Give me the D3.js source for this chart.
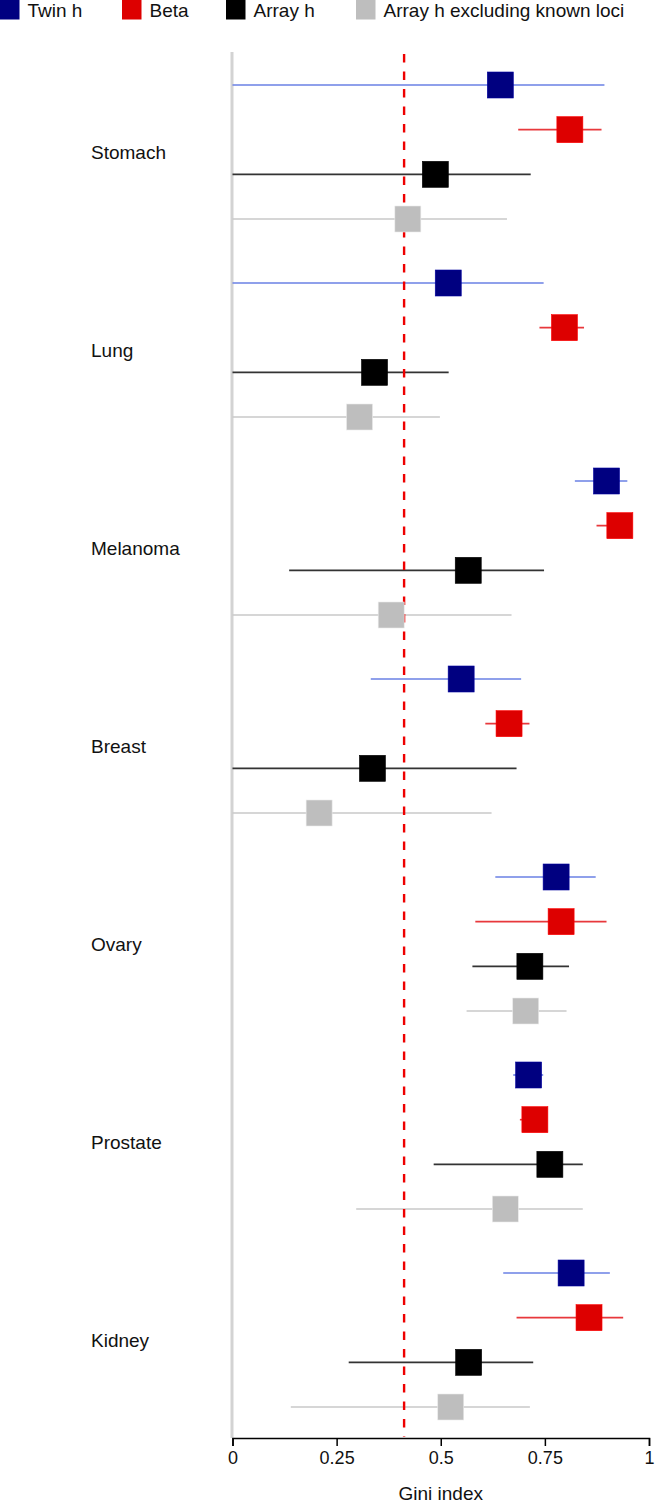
<!DOCTYPE html>
<html lang="en">
<head>
  <meta charset="UTF-8" />
  <title>Gini index by cancer</title>
  <script src="https://d3js.org/d3.v7.min.js"></script>
  <style>
    body { margin: 0; padding: 0; background: white; }
    svg { display: block; font-family: "Liberation Sans", Arial, sans-serif; }
  </style>
</head>
<body>
  <svg id="chart" width="655" height="1505"></svg>

  <script>
    // categories and series
    const cancers = ["Stomach", "Lung", "Melanoma", "Breast", "Ovary", "Prostate", "Kidney"];
    const seriesNames = ["Twin h", "Beta", "Array h", "Array h excluding known loci"];

    // point estimates and interval bounds, one value per cancer
    const twinEst = [0.643, 0.518, 0.898, 0.549, 0.777, 0.711, 0.813];
    const twinLo  = [0,     0,     0.822, 0.332, 0.631, 0.674, 0.650];
    const twinHi  = [0.893, 0.747, 0.948, 0.693, 0.872, 0.746, 0.906];

    const betaEst = [0.810, 0.797, 0.930, 0.664, 0.789, 0.726, 0.856];
    const betaLo  = [0.686, 0.737, 0.874, 0.607, 0.583, 0.690, 0.682];
    const betaHi  = [0.886, 0.844, 0.955, 0.713, 0.898, 0.750, 0.938];

    const arrayEst = [0.487, 0.341, 0.566, 0.336, 0.714, 0.762, 0.567];
    const arrayLo  = [0,     0,     0.136, 0,     0.576, 0.483, 0.279];
    const arrayHi  = [0.716, 0.519, 0.748, 0.682, 0.808, 0.841, 0.722];

    const exclEst = [0.421, 0.305, 0.381, 0.208, 0.704, 0.655, 0.524];
    const exclLo  = [0,     0,     0,     0,     0.562, 0.297, 0.140];
    const exclHi  = [0.659, 0.498, 0.670, 0.622, 0.802, 0.841, 0.714];

    const xTicks = [0, 0.25, 0.5, 0.75, 1];
    const refValue = 0.412;

    const boxColors  = ["#000080", "#dd0000", "#000000", "#bebebe"];
    const lineColors = ["#6a80e4", "#e8383c", "#333333", "#c9c9c9"];

    const est = [twinEst, betaEst, arrayEst, exclEst];
    const lo  = [twinLo, betaLo, arrayLo, exclLo];
    const hi  = [twinHi, betaHi, arrayHi, exclHi];

    // flat table for drawing
    const rows = [];
    cancers.forEach((c, i) => {
      seriesNames.forEach((s, j) => {
        rows.push({ cancer: c, series: s, k: j, est: est[j][i], lo: lo[j][i], hi: hi[j][i] });
      });
    });

    const svg = d3.select("#chart");
    const axisY = 1438;

    const x = d3.scaleLinear().domain([0, 1]).range([232.5, 649]);
    const y = d3.scaleBand().domain(cancers).range([53, 1439]).padding(0);
    const yIn = d3.scalePoint().domain(seriesNames).range([-67, 67]);
    const rowY = d => y(d.cancer) + y.bandwidth() / 2 + yIn(d.series);

    // left grey bar
    svg.append("line")
      .attr("x1", x(0) - 0.5).attr("x2", x(0) - 0.5)
      .attr("y1", 52).attr("y2", axisY)
      .attr("stroke", "#d3d3d3").attr("stroke-width", 3);

    // cancer labels
    svg.append("g").selectAll("text")
      .data(cancers)
      .enter().append("text")
      .attr("x", 91)
      .attr("y", d => y(d) + y.bandwidth() / 2)
      .attr("dy", "0.35em")
      .attr("font-size", 19)
      .attr("fill", "#111")
      .text(d => d);

    // interval lines
    svg.append("g").selectAll("line")
      .data(rows)
      .enter().append("line")
      .attr("x1", d => x(d.lo))
      .attr("x2", d => x(d.hi))
      .attr("y1", rowY).attr("y2", rowY)
      .attr("stroke", d => lineColors[d.k])
      .attr("stroke-width", 1.6);

    // reference dashed line
    svg.append("line")
      .attr("x1", x(refValue)).attr("x2", x(refValue))
      .attr("y1", 54).attr("y2", axisY - 1)
      .attr("stroke", "#ee0000")
      .attr("stroke-width", 2.4)
      .attr("stroke-dasharray", "8.5,9");

    // squares
    const sq = 26;
    svg.append("g").selectAll("rect")
      .data(rows)
      .enter().append("rect")
      .attr("x", d => x(d.est) - sq / 2)
      .attr("y", d => rowY(d) - sq / 2)
      .attr("width", sq).attr("height", sq)
      .attr("fill", d => boxColors[d.k])
      .attr("stroke", d => d3.color(boxColors[d.k]).brighter(0.6))
      .attr("stroke-width", 0.6);

    // x axis
    const xAxis = svg.append("g")
      .attr("transform", `translate(0,${axisY})`)
      .call(d3.axisBottom(x).tickValues(xTicks).tickFormat(d => d3.format("")(d)).tickSize(8).tickPadding(5));
    xAxis.select(".domain").attr("stroke", "#000").attr("stroke-width", 1.5);
    xAxis.selectAll(".tick line").attr("stroke", "#000").attr("stroke-width", 1.5);
    xAxis.selectAll(".tick text")
      .attr("font-size", 18)
      .attr("font-family", "Liberation Sans, Arial, sans-serif")
      .attr("fill", "#111");

    svg.append("text")
      .attr("x", x(0.5)).attr("y", 1500)
      .attr("text-anchor", "middle")
      .attr("font-size", 19)
      .attr("fill", "#111")
      .text("Gini index");

    // legend
    const legendX = [0, 122, 226, 356];
    const legend = svg.append("g").selectAll("g")
      .data(seriesNames)
      .enter().append("g")
      .attr("transform", (d, i) => `translate(${legendX[i]},0)`);
    legend.append("rect")
      .attr("width", 19.5).attr("height", 19.5)
      .attr("fill", (d, i) => boxColors[i]);
    legend.append("text")
      .attr("x", 27.5).attr("y", 17.3)
      .attr("font-size", 19)
      .attr("fill", "#111")
      .text(d => d);
  </script>
</body>
</html>
